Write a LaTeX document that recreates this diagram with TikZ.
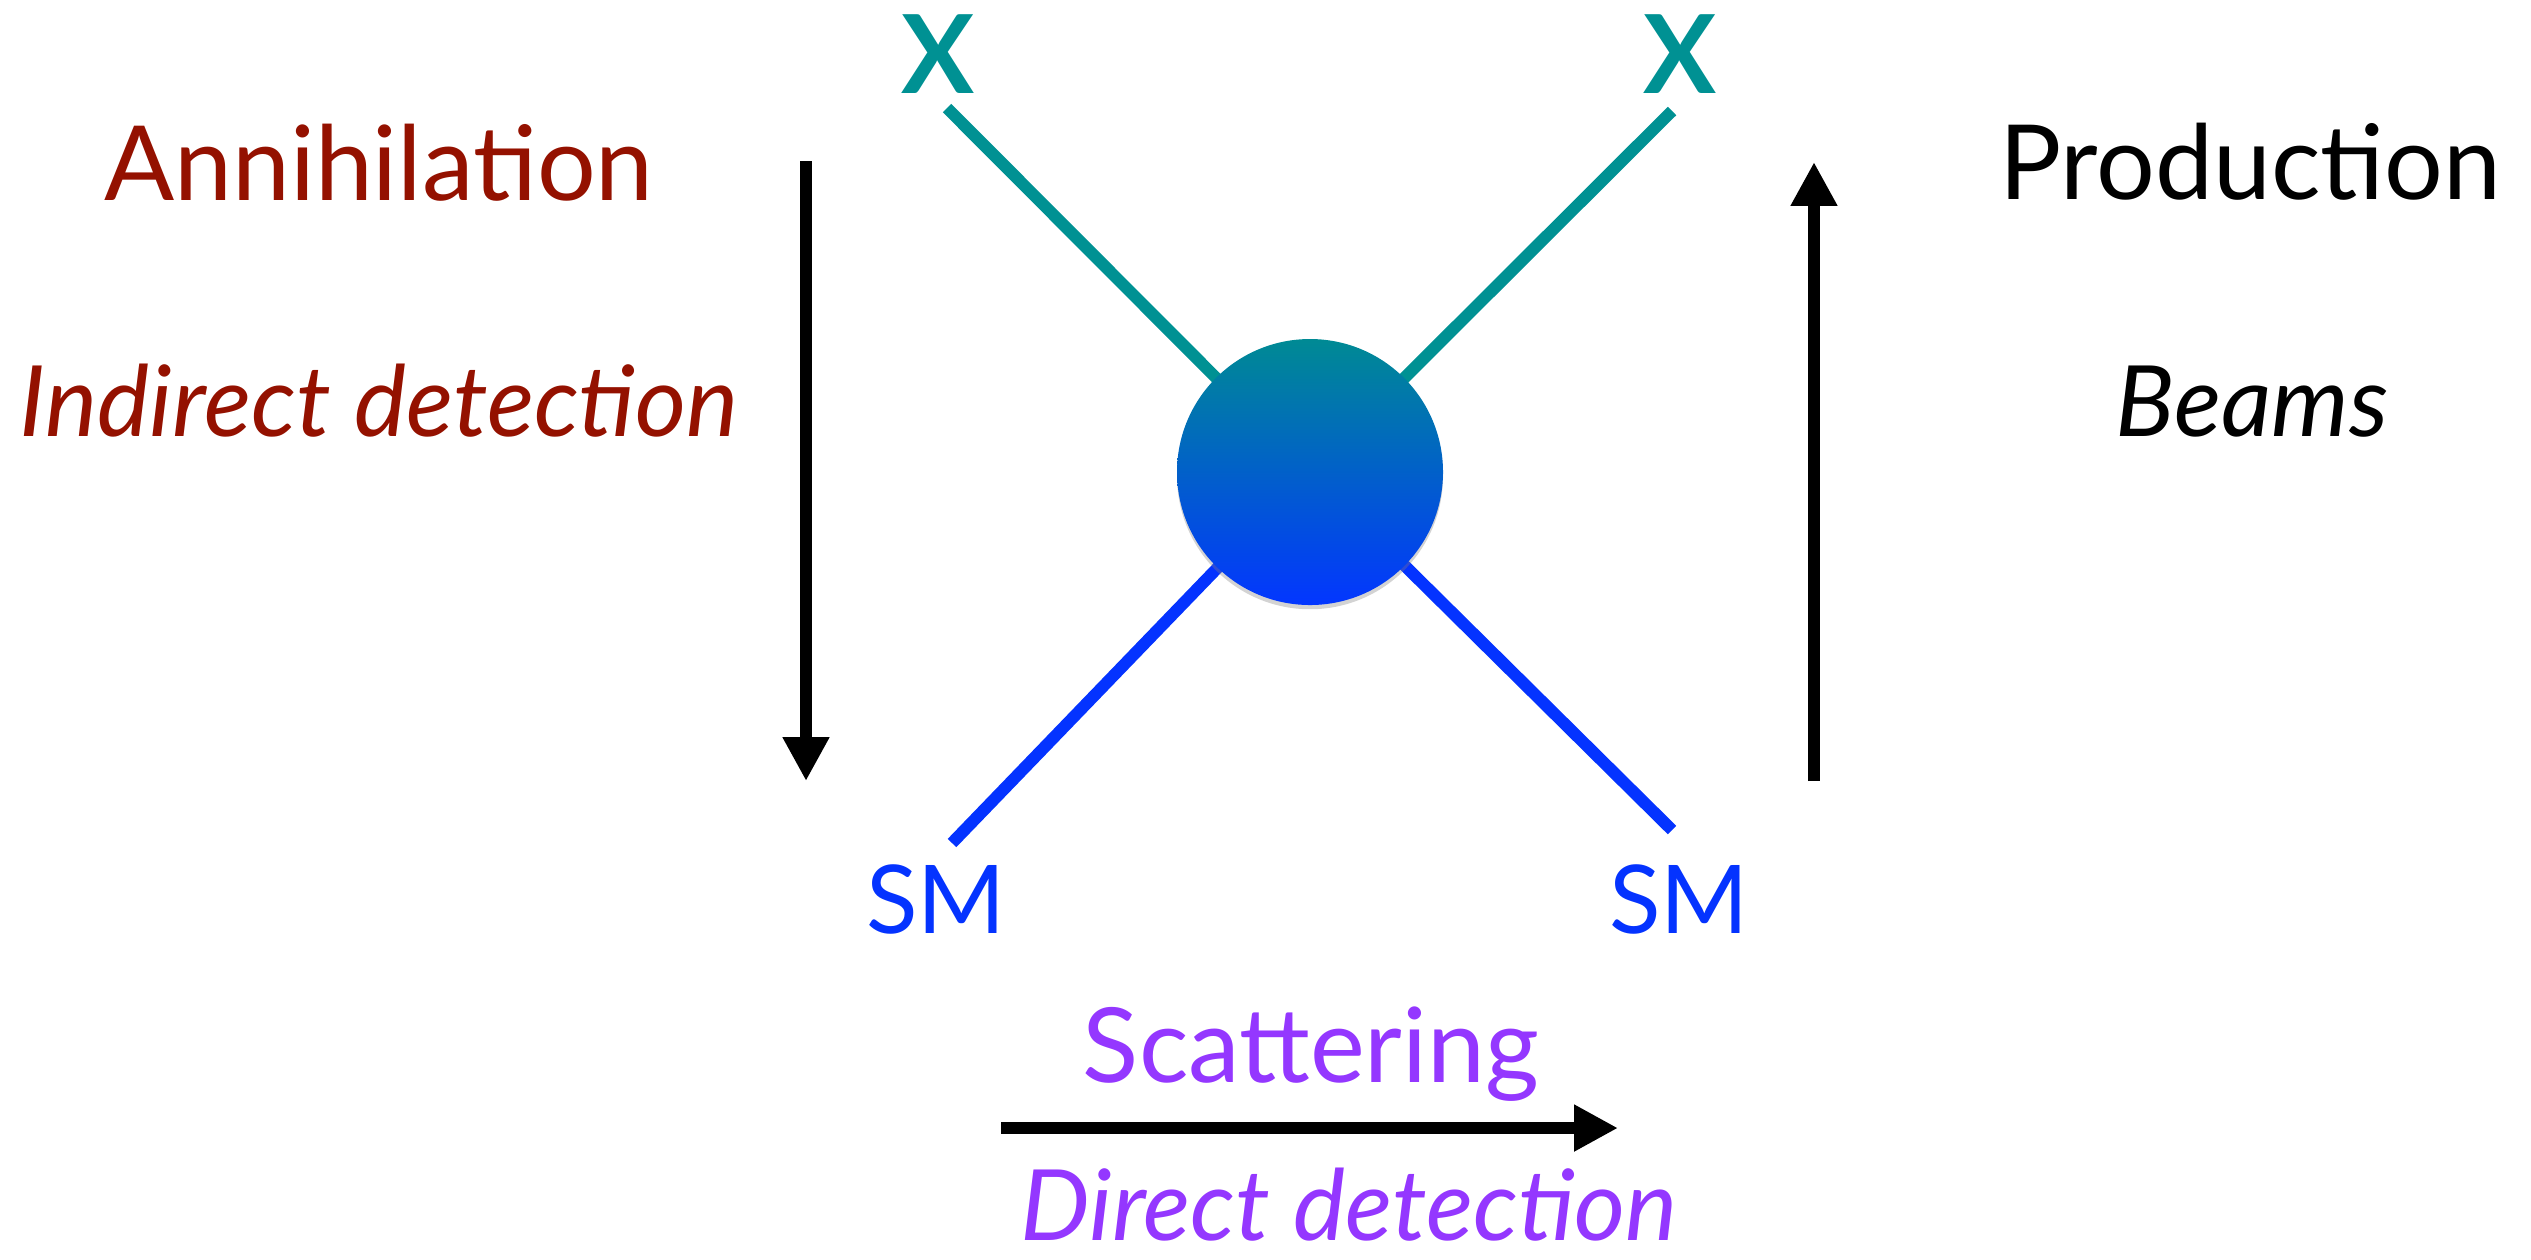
\documentclass[tikz,border=0pt]{standalone}
\usepackage{fontspec}
\setmainfont{Lato}
\usetikzlibrary{arrows.meta,shadows}

\definecolor{maroon}{HTML}{941100}
\definecolor{grape}{HTML}{9437FF}
\definecolor{blueberry}{HTML}{0433FF}
\definecolor{tealx}{HTML}{009193}
\definecolor{blobtop}{HTML}{008A94}
\definecolor{blobbot}{HTML}{0336FF}

\tikzset{
  lbl/.style={anchor=base, inner sep=0pt, font=\fontsize{29.5pt}{34pt}\selectfont},
  lblit/.style={anchor=base, inner sep=0pt, font=\fontsize{28pt}{32pt}\selectfont\itshape},
  particle/.style={anchor=base, inner sep=0pt, font=\fontsize{27pt}{32pt}\selectfont},
  xlabel/.style={anchor=base, inner sep=0pt, text=tealx, font=\fontsize{31pt}{34pt}\selectfont\bfseries},
  leg/.style={line width=3.4pt},
  flow/.style={line width=3.3pt, -{Triangle[length=12.5pt, width=12.5pt]}},
  blob/.style={circle, minimum size=266*0.01cm, inner sep=0pt,
    top color=blobtop, bottom color=blobbot,
    drop shadow={opacity=0.35, shadow xshift=0pt, shadow yshift=-1.2pt}},
}

\begin{document}
\begin{tikzpicture}[x=0.01cm, y=-0.01cm]
\useasboundingbox (0,0) rectangle (2531,1259);

% side labels
\node[lbl, text=maroon] (ann) at (379,200) {Annihilation};
\node[lblit, text=maroon] (ind) at (379,436) {Indirect detection};
\node[lbl] (prod) at (2250,199) {Production};
\node[lblit] (beams) at (2252,436) {Beams};

% external particles
\node[xlabel] (xl) at (938,93) {X};
\node[xlabel] (xr) at (1680,93) {X};
\node[particle, text=blueberry] (sml) at (936,933) {SM};
\node[particle, text=blueberry] (smr) at (1679,933) {SM};

% free ends of the four legs
\coordinate (exl) at (947,108);
\coordinate (exr) at (1672,111);
\coordinate (esl) at (952,843);
\coordinate (esr) at (1672,830);

% interaction vertex
\coordinate (v) at (1310,472);
\draw[leg, tealx] (exl) -- (v);
\draw[leg, tealx] (exr) -- (v);
\draw[leg, blueberry] (esl) -- (v);
\draw[leg, blueberry] (esr) -- (v);
\node[blob] (core) at (v) {};

% process directions
\coordinate (a1) at (806,161);
\coordinate (a2) at (806,781);
\draw[flow] (a1) -- (a2);
\coordinate (b1) at (1814,781);
\coordinate (b2) at (1814,162);
\draw[flow] (b1) -- (b2);
\coordinate (c1) at (1001,1128);
\coordinate (c2) at (1618,1128);
\draw[flow] (c1) -- (c2);

% scattering labels
\node[lbl, text=grape] (scat) at (1311,1082) {Scattering};
\node[lblit, text=grape] (dd) at (1349,1240) {Direct detection};
\end{tikzpicture}
\end{document}
